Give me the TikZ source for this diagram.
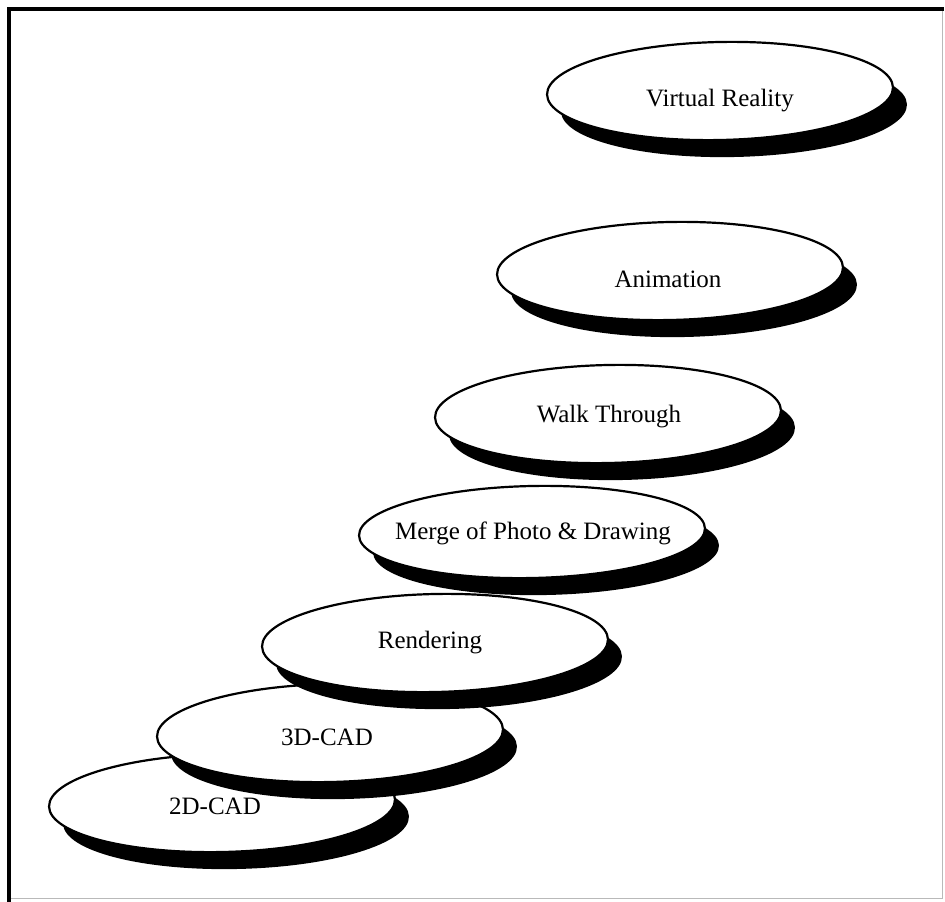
\documentclass[tikz,border=0pt]{standalone}
\usepackage{fontspec}
\setmainfont{Liberation Serif}
\usetikzlibrary{shapes.geometric}
\begin{document}
\begin{tikzpicture}[x=1pt,y=-1pt,
  stage/.style={ellipse, draw=black, line width=2.2pt, fill=white,
    minimum width=346pt, minimum height=98pt, inner sep=0pt, rotate=1.2},
  stageshadow/.style={ellipse, fill=black, draw=none,
    minimum width=346pt, minimum height=98pt, inner sep=0pt, rotate=1.2},
  caption/.style={font=\fontsize{25}{30}\selectfont, inner sep=0pt,
    text height=16.5pt, text depth=0pt}]
\useasboundingbox (0,0) rectangle (945,902);
\fill[white] (0,0) rectangle (945,902);

% frame
\draw[gray!55, line width=1pt] (942,9) -- (942,898) -- (9,898);
\draw[line width=4.5pt] (9,902) -- (9,9) -- (944,9);

% stages, drawn from the lowest step upwards
\node[stageshadow] (cad2s) at (236,820) {};
\node[stage] (cad2) at (222,803) {};
\node[caption] (cad2t) at (215,806) {2D-CAD};

\node[stageshadow] (cad3s) at (344,750) {};
\node[stage] (cad3) at (330,733) {};
\node[caption] (cad3t) at (327,737) {3D-CAD};

\node[stageshadow] (rends) at (449,660) {};
\node[stage] (rend) at (435,643) {};
\node[caption] (rendt) at (430,640) {Rendering};

\node[stageshadow, minimum height=92pt] (merges) at (546,549) {};
\node[stage, minimum height=92pt] (merge) at (532,532) {};
\node[caption] (merget) at (533,531) {Merge of Photo \& Drawing};

\node[stageshadow] (walks) at (622,431) {};
\node[stage] (walk) at (608,414) {};
\node[caption] (walkt) at (609,414) {Walk Through};

\node[stageshadow] (anims) at (684,288) {};
\node[stage] (anim) at (670,271) {};
\node[caption] (animt) at (668,279) {Animation};

\node[stageshadow] (vrs) at (734,108) {};
\node[stage] (vr) at (720,91) {};
\node[caption] (vrt) at (720,98) {Virtual Reality};
\end{tikzpicture}
\end{document}
